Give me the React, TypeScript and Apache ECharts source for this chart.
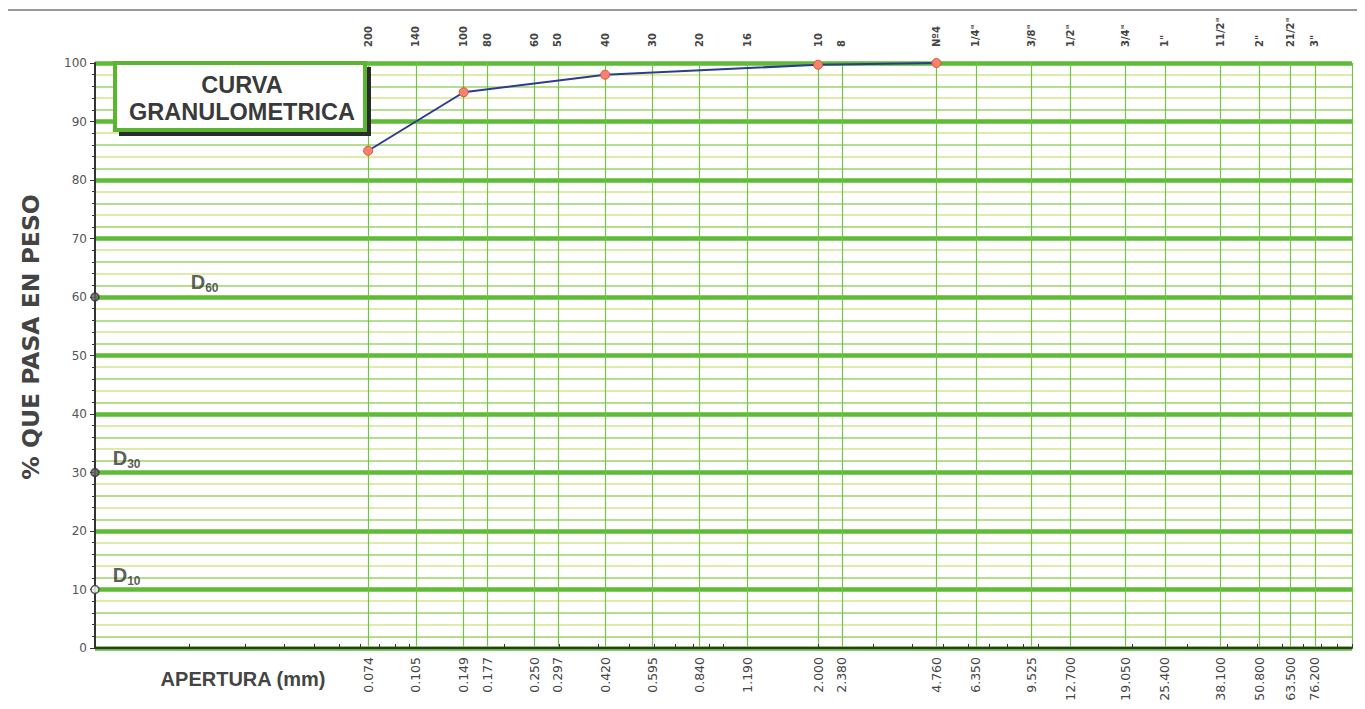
import React, { useEffect, useRef } from "react";
import * as echarts from "echarts";

// Sieve apertures (mm) and their sieve designations
const apertures = [0.074, 0.105, 0.149, 0.177, 0.25, 0.297, 0.42, 0.595, 0.84, 1.19, 2.0, 2.38, 4.76, 6.35, 9.525, 12.7, 19.05, 25.4, 38.1, 50.8, 63.5, 76.2];
const sieveNames = ["200", "140", "100", "80", "60", "50", "40", "30", "20", "16", "10", "8", "Nº4", '1/4"', '3/8"', '1/2"', '3/4"', '1"', '11/2"', '2"', '21/2"', '3"'];

// Grain size sample: aperture (mm) and percent passing
const sampleApertures = [0.074, 0.149, 0.42, 2.0, 4.76];
const percentPassing = [85, 95, 98, 99.7, 100];

// Characteristic diameter levels marked on the vertical axis
const dLevels = [60, 30, 10];
const dNames = ["60", "30", "10"];

const yTicks = [0, 10, 20, 30, 40, 50, 60, 70, 80, 90, 100];

// log-axis minor ticks: 1..9 per decade
const decades = [0.01, 0.1, 1, 10];
const logTicks: number[] = [];
decades.forEach((d) => {
  for (let k = 1; k <= 9; k++) logTicks.push(parseFloat((k * d).toPrecision(6)));
});
logTicks.push(100);

const FONT = "Liberation Sans, Arial, sans-serif";
const WIDE = "DejaVu Sans, sans-serif";

function nameFor(v: number): string {
  let best = 0;
  let bd = Infinity;
  apertures.forEach((a, i) => {
    const d = Math.abs(Math.log(a) - Math.log(v));
    if (d < bd) {
      bd = d;
      best = i;
    }
  });
  return sieveNames[best];
}

export default function App() {
  const ref = useRef<HTMLDivElement>(null);

  useEffect(() => {
    if (!ref.current) return;
    const chart = echarts.init(ref.current, undefined, { renderer: "svg" });

    const option: any = {
      animation: false,
      backgroundColor: "#ffffff",
      grid: {
        left: 95,
        right: 13,
        top: 63,
        bottom: 61,
        containLabel: false,
        outerBoundsMode: "none",
      },
      xAxis: [
        {
          type: "log",
          logBase: 10,
          min: 0.01,
          max: 100,
          position: "bottom",
          axisLine: { show: true, lineStyle: { color: "#333", width: 2 } },
          axisTick: {
            show: true,
            inside: true,
            length: 4,
            customValues: logTicks,
            lineStyle: { color: "#333", width: 1 },
          },
          splitLine: { show: false },
          minorTick: { show: false },
          axisLabel: {
            show: true,
            customValues: apertures,
            rotate: 90,
            margin: 9,
            hideOverlap: false,
            fontFamily: WIDE,
            fontSize: 12.5,
            color: "#444",
            formatter: (v: number) => Number(v).toFixed(3),
          },
        },
        {
          type: "log",
          logBase: 10,
          min: 0.01,
          max: 100,
          position: "top",
          axisLine: { show: false },
          axisTick: { show: false, customValues: [...apertures, 100] },
          splitLine: {
            show: true,
            lineStyle: { color: "#74c24a", width: 1.2 },
          },
          axisLabel: {
            show: true,
            customValues: apertures,
            rotate: 90,
            margin: 16,
            hideOverlap: false,
            fontFamily: WIDE,
            fontWeight: "bold",
            fontSize: 10,
            color: "#444",
            formatter: (v: number) => nameFor(Number(v)),
          },
        },
      ],
      yAxis: [
        {
          // fine grid every 2 %
          type: "value",
          min: 0,
          max: 100,
          interval: 2,
          position: "left",
          offset: 0,
          axisLine: { show: false },
          axisTick: { show: true, length: 3, lineStyle: { color: "#333" } },
          axisLabel: { show: false },
          splitLine: {
            show: true,
            lineStyle: {
              color: ["#5dbb35", "#9bd46a", "#d6e58c", "#9bd46a", "#d6e58c"],
              width: 1.5,
            },
          },
        },
        {
          type: "value",
          min: 0,
          max: 100,
          interval: 10,
          position: "left",
          offset: 0,
          axisLine: { show: true, lineStyle: { color: "#333", width: 2 } },
          axisTick: { show: true, length: 5, lineStyle: { color: "#333" } },
          axisLabel: {
            show: true,
            margin: 8,
            fontFamily: WIDE,
            fontSize: 12,
            color: "#555",
            formatter: (v: number) => (yTicks.includes(v) ? String(v) : ""),
          },
          splitLine: {
            show: true,
            lineStyle: { color: "#5dbb35", width: 4.5 },
          },
        },
      ],
      series: [
        {
          name: "Curva",
          type: "line",
          xAxisIndex: 0,
          yAxisIndex: 1,
          data: sampleApertures.map((a, i) => [a, percentPassing[i]]),
          lineStyle: { color: "#2e3a8f", width: 2 },
          symbol: "circle",
          symbolSize: 9,
          itemStyle: { color: "#f5836d", borderColor: "#e0503c", borderWidth: 1 },
          clip: false,
          z: 5,
        },
        {
          name: "D",
          type: "scatter",
          xAxisIndex: 0,
          yAxisIndex: 1,
          clip: false,
          symbol: "circle",
          symbolSize: 8,
          data: dLevels.map((v, i) => ({
            value: [0.01, v],
            itemStyle: {
              color: i < 2 ? "#666" : "#fff",
              borderColor: "#333",
              borderWidth: 1.5,
            },
            label: {
              distance: [91, 13, 13][i],
              offset: [0, -14],
            },
          })),
          label: {
            show: true,
            position: "right",
            formatter: (p: any) => `{d|D}{s|${dNames[p.dataIndex]}}`,
            rich: {
              d: {
                fontFamily: FONT,
                fontWeight: "bold",
                fontSize: 20,
                color: "#333",
                lineHeight: 22,
                verticalAlign: "top",
              },
              s: {
                fontFamily: FONT,
                fontWeight: "bold",
                fontSize: 12,
                color: "#333",
                lineHeight: 12,
                verticalAlign: "bottom",
              },
            },
          },
          z: 6,
        },
      ],
      graphic: [
        {
          type: "line",
          shape: { x1: 5, y1: 10, x2: 1360, y2: 10 },
          style: { stroke: "#777", lineWidth: 1.5 },
          silent: true,
        },
        {
          type: "rect",
          z: 100,
          shape: { x: 119, y: 67, width: 252, height: 69 },
          style: { fill: "#2b2b2b" },
        },
        {
          type: "rect",
          z: 101,
          shape: { x: 115, y: 63, width: 250, height: 67 },
          style: { fill: "#ffffff", stroke: "#5cb531", lineWidth: 4 },
        },
        {
          type: "text",
          z: 102,
          x: 242,
          y: 85,
          style: {
            text: "CURVA",
            fontFamily: FONT,
            fontWeight: "bold",
            fontSize: 23.5,
            fill: "#3a3a3a",
            align: "center",
            verticalAlign: "middle",
          },
        },
        {
          type: "text",
          z: 102,
          x: 242,
          y: 112,
          style: {
            text: "GRANULOMETRICA",
            fontFamily: FONT,
            fontWeight: "bold",
            fontSize: 23.5,
            fill: "#3a3a3a",
            align: "center",
            verticalAlign: "middle",
          },
        },
        {
          type: "text",
          x: 31,
          y: 337,
          rotation: Math.PI / 2,
          style: {
            text: "% QUE PASA EN PESO",
            fontFamily: WIDE,
            fontWeight: "bold",
            fontSize: 23.5,
            fill: "#444",
            align: "center",
            verticalAlign: "middle",
          },
        },
        {
          type: "text",
          x: 243,
          y: 679,
          style: {
            text: "APERTURA (mm)",
            fontFamily: FONT,
            fontWeight: "bold",
            fontSize: 20,
            fill: "#444",
            align: "center",
            verticalAlign: "middle",
          },
        },
      ],
    };

    chart.setOption(option);
    return () => chart.dispose();
  }, []);

  return <div ref={ref} style={{ width: 1365, height: 709, margin: -8 }} />;
}
